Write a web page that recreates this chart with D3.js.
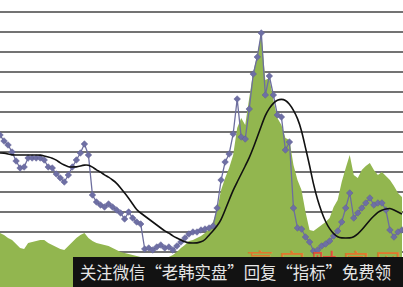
<!DOCTYPE html>
<html>
<head>
<meta charset="utf-8">
<script src="https://cdn.jsdelivr.net/npm/d3@7"></script>
<style>
  html, body { margin: 0; padding: 0; background: #fff; }
  svg { display: block; }
</style>
</head>
<body>
<div id="chart"></div>
<script>
// trading days shown in the picture
const days = d3.range(0, 101);

// volume style series (green area)
const volume = [
  2.95, 2.85, 2.70, 2.60, 2.40, 2.20, 2.15, 2.45, 2.50, 2.55,
  2.60, 2.60, 2.45, 2.35, 2.25, 2.15, 2.10, 2.30, 2.50, 2.70,
  2.85, 2.95, 2.70, 2.55, 2.45, 2.40, 2.35, 2.30, 2.20, 2.10,
  2.00, 1.95, 1.90, 1.85, 1.80, 1.75, 1.70, 1.70, 1.65, 1.65,
  1.65, 1.70, 1.75, 1.85, 2.00, 2.20, 2.35, 2.55, 2.60, 2.70,
  2.80, 2.95, 3.15, 3.50, 4.10, 5.10, 5.70, 6.20, 6.85, 8.20,
  8.70, 8.35, 9.70, 11.00, 11.85, 12.95, 10.60, 10.70, 9.60, 8.70,
  8.35, 7.70, 7.60, 6.35, 5.60, 5.10, 4.00, 3.10, 3.05, 3.20,
  3.35, 3.50, 3.70, 4.25, 4.60, 5.50, 6.20, 6.85, 5.85, 5.70,
  6.10, 6.30, 6.45, 6.10, 5.85, 6.00, 5.80, 5.60, 5.30, 4.95,
  4.75
];

// indicator series (purple line with diamonds)
const indicator = [
  7.85, 7.55, 7.35, 7.00, 6.55, 6.20, 6.25, 6.70, 6.70, 6.70,
  6.70, 6.60, 6.25, 6.20, 5.90, 5.70, 5.50, 5.85, 6.25, 6.60,
  6.95, 7.40, 6.85, 4.85, 4.50, 4.35, 4.25, 4.40, 4.25, 4.10,
  3.95, 3.65, 4.00, 3.70, 3.50, 3.40, 2.15, 2.20, 2.10, 2.25,
  2.35, 2.20, 2.25, 2.10, 2.30, 2.50, 2.70, 2.90, 3.00, 3.00,
  3.10, 3.15, 3.20, 3.30, 4.20, 5.60, 6.50, 6.90, 7.90, 9.65,
  7.75, 7.65, 9.15, 10.90, 11.75, 12.95, 9.85, 10.80, 9.85, 8.85,
  8.75, 7.10, 7.50, 4.20, 3.20, 3.15, 2.75, 2.50, 2.05, 2.10,
  2.30, 2.40, 2.55, 2.80, 3.05, 3.50, 4.20, 4.95, 3.70, 3.95,
  4.20, 4.45, 4.70, 4.35, 4.45, 4.45, 4.10, 3.10, 2.75, 3.00,
  3.10
];

// moving average (black smooth line)
const average = [
  6.95, 6.95, 6.90, 6.85, 6.85, 6.85, 6.85, 6.85, 6.85, 6.85,
  6.85, 6.80, 6.75, 6.70, 6.60, 6.45, 6.35, 6.25, 6.25, 6.25,
  6.30, 6.35, 6.35, 6.25, 6.10, 6.00, 5.85, 5.75, 5.60, 5.45,
  5.20, 4.95, 4.70, 4.40, 4.10, 3.95, 3.80, 3.65, 3.50, 3.35,
  3.20, 3.05, 2.95, 2.80, 2.70, 2.60, 2.50, 2.45, 2.45, 2.45,
  2.50, 2.60, 2.85, 3.05, 3.30, 3.60, 4.10, 4.60, 5.10, 5.50,
  5.90, 6.30, 6.70, 7.20, 7.75, 8.30, 8.85, 9.20, 9.45, 9.60,
  9.65, 9.60, 9.40, 9.10, 8.70, 8.10, 7.20, 6.35, 5.35, 4.60,
  4.00, 3.50, 3.15, 2.90, 2.75, 2.70, 2.70, 2.70, 2.75, 2.90,
  3.10, 3.35, 3.60, 3.80, 4.00, 4.10, 4.15, 4.20, 4.10, 4.00,
  3.90
];

const gridValues = d3.range(1, 15);

const bannerText = "关注微信“老韩实盘”回复“指标”免费领";
const watermarkChars = ["赢", "家", "财", "富", "网"];

const width = 403;
const height = 287;

const data = days.map((d, i) => ({
  day: d,
  volume: volume[i],
  indicator: indicator[i],
  average: average[i],
}));

const x = d3.scaleLinear().domain([0, 100]).range([0, 402]);
const y = d3.scaleLinear().domain([0, 14]).range([292, 12]);

const svg = d3
  .select("#chart")
  .append("svg")
  .attr("width", width)
  .attr("height", height)
  .attr("viewBox", [0, 0, width, height]);

svg.append("rect").attr("width", width).attr("height", height).attr("fill", "#fff");

// the banner covers the bottom of the watermark
svg
  .append("defs")
  .append("clipPath")
  .attr("id", "above-banner")
  .append("rect")
  .attr("x", 0)
  .attr("y", 0)
  .attr("width", width)
  .attr("height", 257);

// horizontal gridlines (no axis labels in the source)
svg
  .append("g")
  .selectAll("line")
  .data(gridValues)
  .join("line")
  .attr("x1", 0)
  .attr("x2", width)
  .attr("y1", (d) => y(d))
  .attr("y2", (d) => y(d))
  .attr("stroke", "#444")
  .attr("stroke-width", 1.5);

/* GREEN AREA */
const area = d3
  .area()
  .x((d) => x(d.day))
  .y0(() => y(0))
  .y1((d) => y(d.volume));

svg
  .append("path")
  .datum(data)
  .attr("d", area)
  .attr("fill", "#92b64f");

/* INDICATOR LINE + DIAMONDS */
const line = d3
  .line()
  .x((d) => x(d.day))
  .y((d) => y(d.indicator));

svg
  .append("path")
  .datum(data)
  .attr("fill", "none")
  .attr("stroke", "#6d6e9e")
  .attr("stroke-width", 1.3)
  .attr("d", line);

const diamond = d3.symbol().type(d3.symbolDiamond2 || d3.symbolDiamond).size(28);

svg
  .append("g")
  .selectAll("path")
  .data(data)
  .join("path")
  .attr("transform", (d) => `translate(${x(d.day)},${y(d.indicator)})`)
  .attr("d", diamond)
  .attr("fill", "#6e6fa4")
  .attr("stroke", "#5e5f92")
  .attr("stroke-width", 0.5);

/* MOVING AVERAGE */
const avgLine = d3
  .line()
  .curve(d3.curveBasis)
  .x((d) => x(d.day))
  .y((d) => y(d.average));

svg
  .append("path")
  .datum(data)
  .attr("fill", "none")
  .attr("stroke", "#111")
  .attr("stroke-width", 1.6)
  .attr("d", avgLine);

// watermark, only its top shows above the banner
svg
  .append("g")
  .attr("clip-path", "url(#above-banner)")
  .selectAll("text")
  .data(watermarkChars)
  .join("text")
  .attr("x", (d, i) => 260 + i * 32)
  .attr("y", 273)
  .attr("text-anchor", "middle")
  .attr("font-family", "Noto Sans CJK SC")
  .attr("font-size", 26)
  .attr("fill", (d, i) => (i === 2 ? "#e0503a" : "#e0782e"))
  .text((d) => d);

// bottom banner
svg
  .append("rect")
  .attr("x", 73)
  .attr("y", 257)
  .attr("width", width - 73)
  .attr("height", height - 257)
  .attr("fill", "#121212");

svg
  .append("text")
  .attr("x", 80)
  .attr("y", 279)
  .attr("font-family", "Noto Sans CJK SC")
  .attr("font-size", 17)
  .attr("fill", "#e6e6e6")
  .attr("textLength", 311)
  .attr("lengthAdjust", "spacingAndGlyphs")
  .text(bannerText);
</script>
</body>
</html>
